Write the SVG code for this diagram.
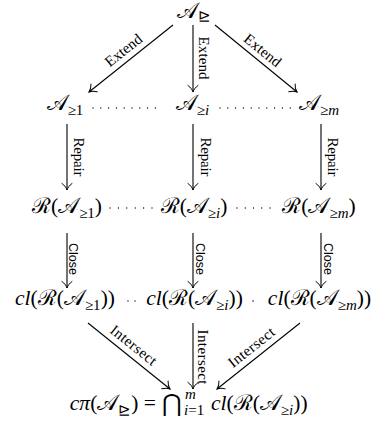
<svg xmlns="http://www.w3.org/2000/svg" width="378" height="428" viewBox="0 0 378 428">
<style>
.m{font-family:"Liberation Serif","DejaVu Serif",serif;font-size:21.5px;fill:#000}
.i{font-style:italic}
.s{font-size:15px}
.lb{font-family:"Liberation Serif","DejaVu Serif",serif;font-size:15px;fill:#000}
.ls{font-family:"Liberation Sans","DejaVu Sans",sans-serif;font-size:12.5px;fill:#000}
.e{stroke:#000;stroke-width:1.1;fill:none;marker-end:url(#ah)}
.d{stroke:#000;stroke-width:1.3;stroke-linecap:round;fill:none}
</style>
<defs>
<marker id="ah" viewBox="-8 -6 10 12" refX="0" refY="0" markerWidth="10" markerHeight="12" markerUnits="userSpaceOnUse" orient="auto">
<path d="M-6.5,-5 C-4.5,-2.2 -2,-0.6 0,0 C-2,0.6 -4.5,2.2 -6.5,5" stroke="#000" stroke-width="1" fill="none" stroke-linecap="round"/>
</marker>
</defs>
<g id="connectors">
<line class="e" x1="173" y1="25" x2="89" y2="92"/>
<line class="e" x1="193" y1="25" x2="193" y2="92"/>
<line class="e" x1="215" y1="25" x2="297" y2="92"/>
<line class="e" x1="67" y1="124" x2="67" y2="190"/>
<line class="e" x1="193" y1="124" x2="193" y2="190"/>
<line class="e" x1="321" y1="124" x2="321" y2="190"/>
<line class="e" x1="67" y1="233" x2="67" y2="288"/>
<line class="e" x1="193" y1="233" x2="193" y2="288"/>
<line class="e" x1="321" y1="233" x2="321" y2="288"/>
<line class="e" x1="88" y1="323" x2="170" y2="389"/>
<line class="e" x1="193" y1="323" x2="193" y2="389"/>
<line class="e" x1="300" y1="323" x2="217" y2="389"/>
<line class="d" x1="93" y1="108" x2="163.2" y2="108" stroke-dasharray="0 7.8"/>
<line class="d" x1="220" y1="108" x2="290.2" y2="108" stroke-dasharray="0 7.8"/>
<line class="d" x1="110" y1="208" x2="152.2" y2="208" stroke-dasharray="0 8.4"/>
<line class="d" x1="237" y1="208" x2="270.2" y2="208" stroke-dasharray="0 8.25"/>
<line class="d" x1="128" y1="301" x2="135.2" y2="301" stroke-dasharray="0 7"/>
<line class="d" x1="253" y1="301" x2="253.1" y2="301"/>
<g transform="translate(124,51) rotate(-38.6)"><text class="lb" x="0" y="4" text-anchor="middle" textLength="43">Extend</text></g>
<g transform="translate(202.5,58) rotate(90)"><text class="lb" x="0" y="4" text-anchor="middle" textLength="43">Extend</text></g>
<g transform="translate(262,51) rotate(38.9)"><text class="lb" x="0" y="4" text-anchor="middle" textLength="43">Extend</text></g>
<g transform="translate(78,157) rotate(90)"><text class="lb" x="0" y="4" text-anchor="middle" textLength="39">Repair</text></g>
<g transform="translate(205,157) rotate(90)"><text class="lb" x="0" y="4" text-anchor="middle" textLength="39">Repair</text></g>
<g transform="translate(332,157) rotate(90)"><text class="lb" x="0" y="4" text-anchor="middle" textLength="39">Repair</text></g>
<g transform="translate(73,259) rotate(90)"><text class="ls" x="0" y="4" text-anchor="middle" textLength="32">Close</text></g>
<g transform="translate(200,259) rotate(90)"><text class="ls" x="0" y="4" text-anchor="middle" textLength="32">Close</text></g>
<g transform="translate(327.5,259) rotate(90)"><text class="ls" x="0" y="4" text-anchor="middle" textLength="32">Close</text></g>
<g transform="translate(133,346) rotate(38.8)"><text class="lb" x="0" y="4" text-anchor="middle" textLength="55">Intersect</text></g>
<g transform="translate(202,357) rotate(90)"><text class="lb" x="0" y="4" text-anchor="middle" textLength="55">Intersect</text></g>
<g transform="translate(252,348) rotate(-38.5)"><text class="lb" x="0" y="4" text-anchor="middle" textLength="55">Intersect</text></g>
</g>
<g id="top"><text class="m" x="193.5" y="18" text-anchor="middle">𝒜<tspan class="s" dy="3">⊵</tspan></text></g>
<g id="a1"><text class="m" x="65" y="110" text-anchor="middle">𝒜<tspan class="s" dy="5">≥1</tspan></text></g>
<g id="ai"><text class="m" x="192.5" y="110" text-anchor="middle">𝒜<tspan class="s" dy="5">≥<tspan class="i">i</tspan></tspan></text></g>
<g id="am"><text class="m" x="319" y="110" text-anchor="middle">𝒜<tspan class="s" dy="5">≥<tspan class="i">m</tspan></tspan></text></g>
<g id="r1"><text class="m" x="67" y="213" text-anchor="middle">ℛ(𝒜<tspan class="s" dy="5">≥1</tspan><tspan dy="-5">)</tspan></text></g>
<g id="ri"><text class="m" x="194" y="213" text-anchor="middle">ℛ(𝒜<tspan class="s" dy="5">≥<tspan class="i">i</tspan></tspan><tspan dy="-5">)</tspan></text></g>
<g id="rm"><text class="m" x="319" y="213" text-anchor="middle">ℛ(𝒜<tspan class="s" dy="5">≥<tspan class="i">m</tspan></tspan><tspan dy="-5">)</tspan></text></g>
<g id="c1"><text class="m" x="65" y="305" text-anchor="middle"><tspan class="i">cl</tspan>(ℛ(𝒜<tspan class="s" dy="5">≥1</tspan><tspan dy="-5">))</tspan></text></g>
<g id="ci"><text class="m" x="194.5" y="305" text-anchor="middle"><tspan class="i">cl</tspan>(ℛ(𝒜<tspan class="s" dy="5">≥<tspan class="i">i</tspan></tspan><tspan dy="-5">))</tspan></text></g>
<g id="cm"><text class="m" x="319.5" y="305" text-anchor="middle"><tspan class="i">cl</tspan>(ℛ(𝒜<tspan class="s" dy="5">≥<tspan class="i">m</tspan></tspan><tspan dy="-5">))</tspan></text></g>
<g id="result">
<text class="m" x="156" y="410" text-anchor="end"><tspan class="i">cπ</tspan>(𝒜<tspan class="s" dy="5">⊵</tspan><tspan dy="-5">) =</tspan></text>
<text class="m" x="162" y="411" style="font-size:24px">⋂</text>
<text class="m s i" x="185" y="399">m</text>
<text class="m s" x="184" y="415"><tspan class="i">i</tspan>=1</text>
<text class="m" x="211" y="410"><tspan class="i">cl</tspan>(ℛ(𝒜<tspan class="s" dy="5">≥<tspan class="i">i</tspan></tspan><tspan dy="-5">))</tspan></text>
</g>
</svg>
